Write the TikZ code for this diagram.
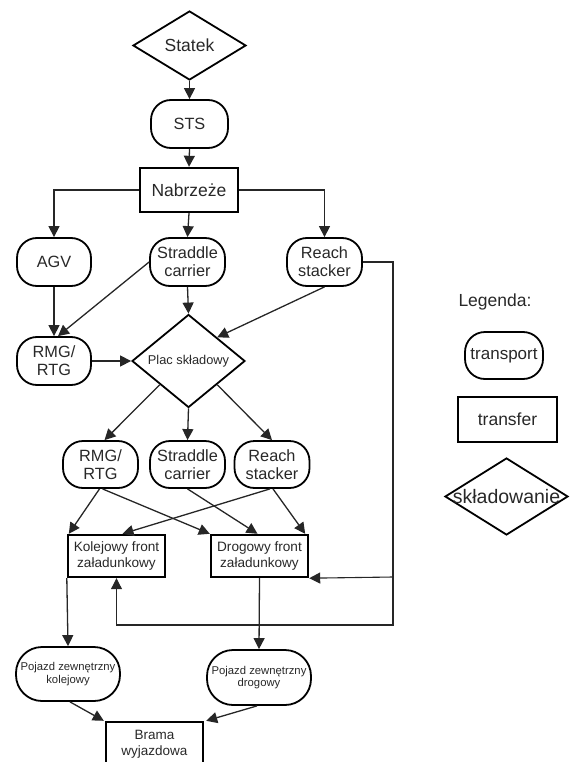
\documentclass[tikz,border=0pt]{standalone}
\usepackage{fontspec}
\setmainfont{Liberation Sans}
\usepackage{xcolor}
\usetikzlibrary{shapes.geometric, arrows.meta}
\definecolor{ink}{RGB}{40, 40, 40}

\tikzset{
    transport/.style={draw=black, line width=1.8pt, rounded corners=20pt, text=ink, align=center,
        inner sep=0pt, minimum width=75pt, minimum height=48pt, font=\fontsize{16.3}{17.7}\selectfont},
    transfer/.style={draw=black, line width=2.4pt, text=ink, align=center,
        inner sep=0pt, minimum width=97pt, minimum height=42pt, font=\fontsize{13.6}{16.7}\selectfont},
    storage/.style={diamond, draw=black, line width=1.8pt, text=ink, align=center,
        inner sep=0pt, minimum width=113pt, minimum height=68pt, font=\fontsize{12.8}{14}\selectfont},
    conn/.style={-{Triangle[length=11pt, width=11pt]}, line width=1.3pt, draw=black!85}
}

\begin{document}
\begin{tikzpicture}[x=1pt, y=-1pt]
        \useasboundingbox (0, 0) rectangle (570, 762);
        % upper part
        \node[storage, minimum height=69pt, font=\fontsize{17.5}{19}\selectfont] (statek) at (189.5, 45.5) {Statek};
        \node[transport, minimum width=77pt] (sts) at (189.5, 124) {STS};
        \node[transfer, minimum width=98pt, minimum height=44pt, font=\fontsize{17.5}{19}\selectfont] (nab) at (189, 190) {Nabrzeże};
        \node[transport, minimum width=74pt] (agv) at (54, 262) {AGV};
        \node[transport] (strad1) at (187.5, 262) {Straddle\\carrier};
        \node[transport] (reach1) at (324.5, 262) {Reach\\stacker};
        \node[transport, minimum width=74pt] (rmg1) at (54, 361) {RMG/\\RTG};
        \node[storage] (plac) at (188.5, 361) {Plac składowy};
        % yard equipment
        \node[transport, minimum height=47pt] (rmg2) at (100.5, 464.5) {RMG/\\RTG};
        \node[transport, minimum height=47pt] (strad2) at (187.5, 464.5) {Straddle\\carrier};
        \node[transport, minimum height=47pt] (reach2) at (272, 464.5) {Reach\\stacker};
        % loading fronts
        \node[transfer] (kol) at (116.5, 556) {Kolejowy front\\załadunkowy};
        \node[transfer] (drog) at (259.5, 556) {Drogowy front\\załadunkowy};
        \node[transport, minimum width=104pt, minimum height=54pt, rounded corners=26pt,
            font=\fontsize{11.3}{12.5}\selectfont] (pkol) at (68, 674) {Pojazd zewnętrzny\\kolejowy};
        \node[transport, minimum width=104pt, minimum height=55pt, rounded corners=26pt,
            font=\fontsize{11.3}{12.5}\selectfont] (pdrog) at (259, 677.5) {Pojazd zewnętrzny\\drogowy};
        \node[transfer, minimum height=44pt, font=\fontsize{13.5}{16}\selectfont] (brama) at (154.5, 744) {Brama\\wyjazdowa};
        % legend
        \node[text=ink, font=\fontsize{17.5}{19}\selectfont] (leg) at (495, 302) {Legenda:};
        \node[transport, minimum width=78pt, minimum height=47pt, font=\fontsize{17}{18}\selectfont] (legtransport) at (504, 355.5) {transport};
        \node[transfer, minimum width=99pt, minimum height=45pt, font=\fontsize{17.5}{19}\selectfont] (legtransfer) at (507.5, 419.5) {transfer};
        \node[storage, minimum width=123pt, minimum height=77pt, font=\fontsize{19.5}{21}\selectfont] (legstorage) at (506.5, 496.5) {\makebox[0pt]{składowanie}};

        \coordinate (bendA) at (393, 577);
        \coordinate (bendB) at (393, 625);

        \draw[conn] (statek.south)--(sts.north);
        \draw[conn] (sts.south)--(nab.north);
        \draw[conn] (nab.west) -| (agv.north);
        \draw[conn] (nab.south)--(strad1.north);
        \draw[conn] (nab.east) -| (reach1.north);
        \draw[conn] (agv.south)--(rmg1.north);
        \draw[conn] (strad1.west)--([xshift=4pt]rmg1.north);
        \draw[conn] (strad1.south)--(plac.north);
        \draw[conn] (reach1.south)--(plac.north east);
        \draw[conn] (rmg1.east)--(plac.west);
        \draw[conn] (plac.south west)--([xshift=4pt]rmg2.north);
        \draw[conn] (plac.south)--(strad2.north);
        \draw[conn] (plac.south east)--(reach2.north);
        \draw[conn] ([xshift=-1pt]rmg2.south)--([xshift=2pt]kol.north west);
        \draw[conn] ([xshift=2pt]rmg2.south)--(drog.north west);
        \draw[conn] (strad2.south)--([xshift=-2pt]drog.north);
        \draw[conn] ([xshift=-2pt]reach2.south)--([xshift=6pt]kol.north);
        \draw[conn] ([xshift=1pt]reach2.south)--([xshift=-4pt]drog.north east);
        \draw[conn, line width=1.1pt] (reach1.east) -| (bendB) -| (kol.south);
        \draw[conn, line width=1.1pt] (bendA)--(drog.south east);
        \draw[conn] (kol.south west)--(pkol.north);
        \draw[conn] (drog.south)--(pdrog.north);
        \draw[conn] ([xshift=2pt]pkol.south)--([xshift=-1pt]brama.north west);
        \draw[conn] ([xshift=-2pt]pdrog.south)--([xshift=2pt]brama.north east);
    \end{tikzpicture}
\end{document}
